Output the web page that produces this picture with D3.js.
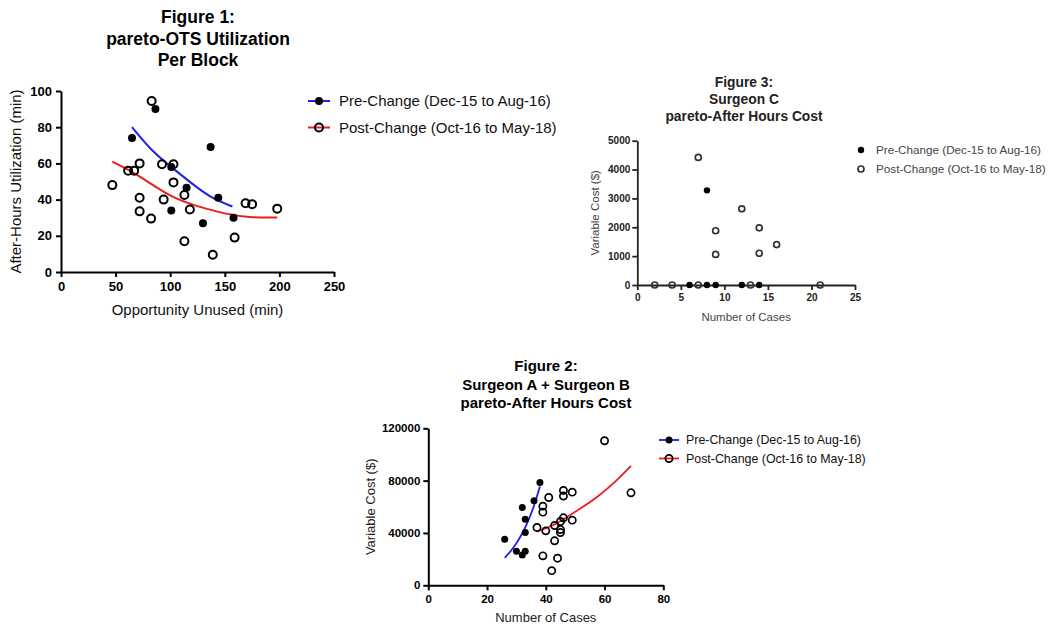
<!DOCTYPE html>
<html><head><meta charset="utf-8">
<script src="https://cdn.jsdelivr.net/npm/d3@7"></script>
<style>
body{margin:0;background:#fff;}
svg{display:block;font-family:"Liberation Sans",Arial,Helvetica,sans-serif;}
</style></head>
<body>
<svg id="c" width="1051" height="625"></svg>
<script>
// ---------- Legend labels ----------
const preLabel = "Pre-Change (Dec-15 to Aug-16)";
const postLabel = "Post-Change (Oct-16 to May-18)";

// ---------- Figure 1 ----------
const fig1Title = ["Figure 1:", "pareto-OTS Utilization", "Per Block"];
const fig1XTicks = [0, 50, 100, 150, 200, 250];
const fig1YTicks = [0, 20, 40, 60, 80, 100];
const fig1PreX = [65, 86.5, 101, 115, 137, 144, 101, 130, 158];
const fig1PreY = [74, 90, 58, 46.5, 69, 41, 34, 27, 30];
const fig1PostX = [47, 83, 61.5, 67, 72, 92.5, 103, 103, 72, 72, 82.5, 94, 113, 118, 113, 139, 159, 169, 175, 198];
const fig1PostY = [48, 94.5, 56, 56, 60, 59.5, 59.5, 49.5, 41, 33.5, 29.5, 40, 42.5, 34.5, 17, 9.5, 19, 38, 37.5, 35];
const fig1PreFitX = [65, 83, 101, 118, 137, 157];
const fig1PreFitY = [80, 67.5, 58, 49.8, 41.7, 36.2];
const fig1PostFitX = [47, 70, 100, 125, 150, 175, 198];
const fig1PostFitY = [61, 53.5, 42.3, 36.4, 32.4, 30.3, 30.1];

// ---------- Figure 2 ----------
const fig2Title = ["Figure 2:", "Surgeon A + Surgeon B", "pareto-After Hours Cost"];
const fig2XTicks = [0, 20, 40, 60, 80];
const fig2YTicks = [0, 40000, 80000, 120000];
const fig2PreX = [26, 30, 32, 33, 33, 33, 32, 36, 38];
const fig2PreY = [35200, 26000, 59500, 50500, 40300, 26000, 23200, 64600, 78600];
const fig2PostX = [37, 39, 39, 41, 40, 39, 43, 43, 42, 44, 45, 45, 45, 46, 46, 46, 49, 49, 60, 69];
const fig2PostY = [44200, 60500, 55900, 67100, 41600, 22500, 45700, 34000, 11200, 20700, 48800, 42600, 40300, 51600, 72500, 68200, 71200, 49800, 110500, 70700];
const fig2PreFitX = [26, 28, 30, 32, 34, 36, 38];
const fig2PreFitY = [21000, 26000, 32200, 39800, 49300, 61000, 75500];
const fig2PostFitX = [37, 42, 46, 52, 58, 64, 69];
const fig2PostFitY = [41000, 45500, 50500, 59000, 68500, 80000, 91200];

// ---------- Figure 3 ----------
const fig3Title = ["Figure 3:", "Surgeon C", "pareto-After Hours Cost"];
const fig3XTicks = [0, 5, 10, 15, 20, 25];
const fig3YTicks = [0, 1000, 2000, 3000, 4000, 5000];
const fig3PreX = [6, 8, 9, 12, 14, 8];
const fig3PreY = [0, 0, 0, 0, 0, 3280];
const fig3PostX = [2, 4, 7, 13, 21, 7, 9, 9, 12, 14, 14, 16];
const fig3PostY = [0, 0, 0, 0, 0, 4420, 1880, 1060, 2640, 1980, 1100, 1400];

const svg = d3.select("#c");
const BLUE = "#1f1fef", RED = "#ee1c1c";

function drawPanel(o) {
  const g = svg.append("g");
  const x = d3.scaleLinear().domain(o.xDomain).range(o.xRange);
  const y = d3.scaleLinear().domain(o.yDomain).range(o.yRange);
  const col = o.textColor;

  // title
  o.title.forEach((t, i) => {
    g.append("text").attr("x", o.titleX).attr("y", o.titleY + i * o.titleLH)
      .attr("text-anchor", "middle").attr("font-weight", "bold")
      .attr("font-size", o.titleSize).attr("fill", col).text(t);
  });

  // axes
  const fmt = d3.format("d");
  const xAx = d3.axisBottom(x).tickValues(o.xTicks).tickFormat(fmt).tickSize(o.tick).tickPadding(o.tickPadX).tickSizeOuter(0);
  const yAx = d3.axisLeft(y).tickValues(o.yTicks).tickFormat(fmt).tickSize(o.tick).tickPadding(o.tickPadY).tickSizeOuter(0);
  const gx = g.append("g").attr("transform", `translate(0,${o.yRange[0]})`).call(xAx);
  const gy = g.append("g").attr("transform", `translate(${o.xRange[0]},0)`).call(yAx);
  [gx, gy].forEach(a => {
    a.select(".domain").attr("stroke", col).attr("stroke-width", o.axisW);
    a.selectAll(".tick line").attr("stroke", col).attr("stroke-width", o.axisW);
    a.selectAll(".tick text").attr("font-family", "Liberation Sans, Arial, sans-serif")
      .attr("font-weight", "bold").attr("font-size", o.tickSize).attr("fill", col);
  });
  // axis titles
  g.append("text").attr("x", (o.xRange[0] + o.xRange[1]) / 2).attr("y", o.xTitleY)
    .attr("text-anchor", "middle").attr("font-size", o.axTitleSize).attr("fill", o.axTitleColor).text(o.xTitle);
  g.append("text").attr("transform", `translate(${o.yTitleX},${(o.yRange[0] + o.yRange[1]) / 2}) rotate(-90)`)
    .attr("text-anchor", "middle").attr("font-size", o.axTitleSize).attr("fill", o.axTitleColor).text(o.yTitle);

  // fit curves
  const line = d3.line().x(d => x(d[0])).y(d => y(d[1])).curve(d3.curveNatural);
  if (o.preFit) {
    g.append("path").datum(d3.zip(o.preFit[0], o.preFit[1])).attr("d", line)
      .attr("fill", "none").attr("stroke", BLUE).attr("stroke-width", o.fitW);
    g.append("path").datum(d3.zip(o.postFit[0], o.postFit[1])).attr("d", line)
      .attr("fill", "none").attr("stroke", RED).attr("stroke-width", o.fitW);
  }
  // points
  g.selectAll(".post").data(d3.zip(o.postX, o.postY)).join("circle")
    .attr("cx", d => x(d[0])).attr("cy", d => y(d[1])).attr("r", o.openR)
    .attr("fill", "none").attr("stroke", o.openColor).attr("stroke-width", o.openW);
  g.selectAll(".pre").data(d3.zip(o.preX, o.preY)).join("circle")
    .attr("cx", d => x(d[0])).attr("cy", d => y(d[1])).attr("r", o.fillR)
    .attr("fill", "#000");

  // legend
  [preLabel, postLabel].forEach((lab, i) => {
    const ly = o.legY + i * o.legLH;
    if (o.preFit) {
      g.append("line").attr("x1", o.legX - o.legLineHalf).attr("x2", o.legX + o.legLineHalf)
        .attr("y1", ly).attr("y2", ly).attr("stroke", i === 0 ? BLUE : RED).attr("stroke-width", o.fitW);
    }
    if (i === 0) g.append("circle").attr("cx", o.legX).attr("cy", ly).attr("r", o.fillR).attr("fill", "#000");
    else g.append("circle").attr("cx", o.legX).attr("cy", ly).attr("r", o.openR)
      .attr("fill", "none").attr("stroke", o.openColor).attr("stroke-width", o.openW);
    g.append("text").attr("x", o.legTextX).attr("y", ly).attr("dy", "0.36em")
      .attr("font-size", o.legSize).attr("fill", o.legColor).text(lab);
  });
}

drawPanel({
  title: fig1Title, titleX: 198, titleY: 23, titleLH: 21.5, titleSize: 17.5, textColor: "#000",
  xDomain: [0, 250], xRange: [61, 334], yDomain: [0, 100], yRange: [272, 91],
  xTicks: fig1XTicks, yTicks: fig1YTicks, tick: 5, tickPadX: 5, tickPadY: 4, axisW: 2, tickSize: 13,
  xTitle: "Opportunity Unused (min)", yTitle: "After-Hours Utilization (min)",
  xTitleY: 315, yTitleX: 21, axTitleSize: 15, axTitleColor: "#111",
  preX: fig1PreX, preY: fig1PreY, postX: fig1PostX, postY: fig1PostY,
  preFit: [fig1PreFitX, fig1PreFitY], postFit: [fig1PostFitX, fig1PostFitY], fitW: 2,
  fillR: 4, openR: 4, openW: 2, openColor: "#000",
  legX: 319, legLineHalf: 11, legY: 101, legLH: 26.5, legTextX: 339, legSize: 15, legColor: "#111"
});

drawPanel({
  title: fig2Title, titleX: 546, titleY: 371, titleLH: 18.5, titleSize: 15, textColor: "#000",
  xDomain: [0, 80], xRange: [428.3, 663.3], yDomain: [0, 120000], yRange: [585.3, 428.3],
  xTicks: fig2XTicks, yTicks: fig2YTicks, tick: 5, tickPadX: 5, tickPadY: 3, axisW: 2, tickSize: 11.5,
  xTitle: "Number of Cases", yTitle: "Variable Cost ($)",
  xTitleY: 622, yTitleX: 375, axTitleSize: 13, axTitleColor: "#222",
  preX: fig2PreX, preY: fig2PreY, postX: fig2PostX, postY: fig2PostY,
  preFit: [fig2PreFitX, fig2PreFitY], postFit: [fig2PostFitX, fig2PostFitY], fitW: 1.8,
  fillR: 3.5, openR: 3.6, openW: 1.7, openColor: "#000",
  legX: 669, legLineHalf: 10, legY: 440, legLH: 18.5, legTextX: 686, legSize: 12.4, legColor: "#111"
});

drawPanel({
  title: fig3Title, titleX: 744, titleY: 87, titleLH: 17, titleSize: 13.8, textColor: "#222",
  xDomain: [0, 25], xRange: [637.3, 855], yDomain: [0, 5000], yRange: [285, 140.7],
  xTicks: fig3XTicks, yTicks: fig3YTicks, tick: 5, tickPadX: 4, tickPadY: 2, axisW: 1.8, tickSize: 10,
  xTitle: "Number of Cases", yTitle: "Variable Cost ($)",
  xTitleY: 321, yTitleX: 599, axTitleSize: 11.5, axTitleColor: "#444",
  preX: fig3PreX, preY: fig3PreY, postX: fig3PostX, postY: fig3PostY,
  preFit: null, fitW: 2,
  fillR: 3.2, openR: 3, openW: 1.7, openColor: "#333",
  legX: 861, legLineHalf: 0, legY: 150, legLH: 19, legTextX: 876, legSize: 11.7, legColor: "#444"
});
</script>
</body></html>
